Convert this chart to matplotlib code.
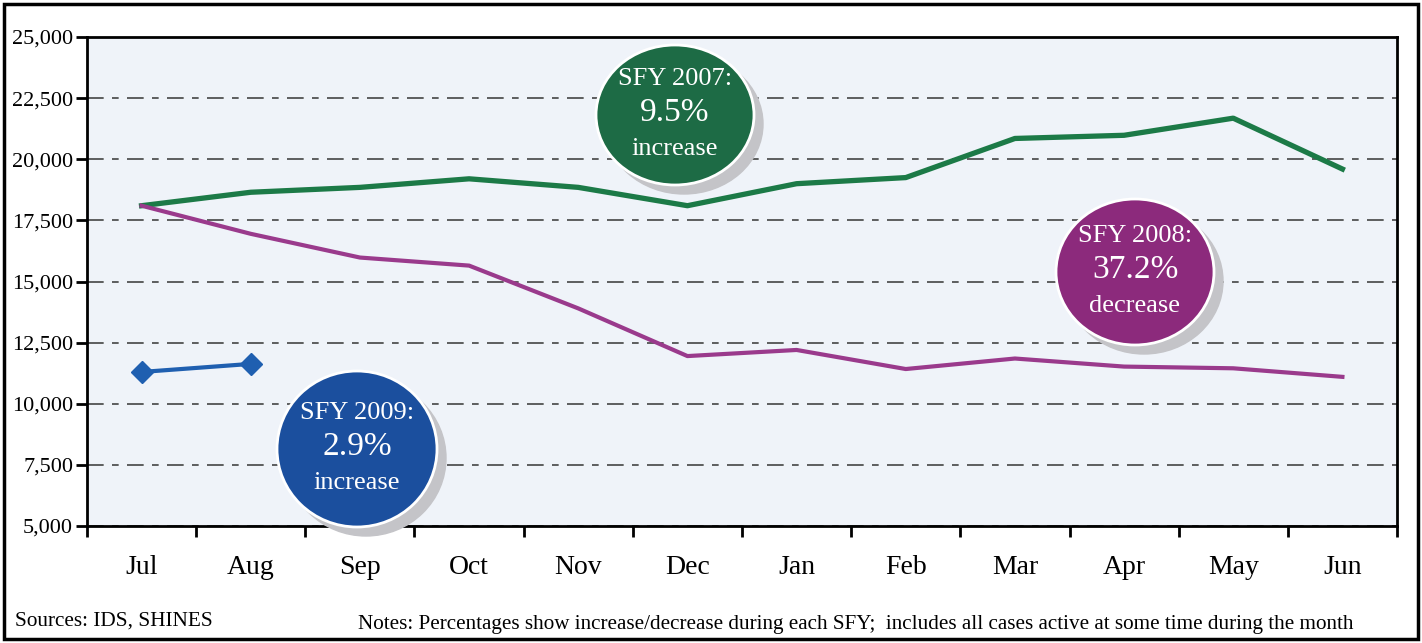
import matplotlib.pyplot as plt
from matplotlib.patches import Ellipse, Rectangle
from matplotlib.ticker import FuncFormatter, MultipleLocator

plt.rcParams['font.family'] = ['Liberation Serif', 'DejaVu Serif']

months = ["Jul", "Aug", "Sep", "Oct", "Nov", "Dec", "Jan", "Feb", "Mar", "Apr", "May", "Jun"]
sfy2007 = [18100, 18650, 18850, 19200, 18850, 18100, 19000, 19250, 20850, 20980, 21680, 19600]
sfy2008 = [18100, 16950, 15980, 15650, 13900, 11950, 12200, 11420, 11850, 11520, 11450, 11100]
sfy2009 = [11300, 11630]

W, H = 1422, 643
fig = plt.figure(figsize=(W / 100, H / 100), dpi=100)
ax = fig.add_axes([87 / W, 1 - 526 / H, 1310 / W, 489 / H])
ax.set_facecolor("#eff3f9")

x = range(len(months))
ax.plot(x, sfy2007, color="#1c7a47", lw=3.8, zorder=3)
ax.plot(x, sfy2008, color="#9a3a8c", lw=3, zorder=3)
ax.plot(range(len(sfy2009)), sfy2009, color="#1f5fb0", lw=3, marker="D",
        markersize=11, markerfacecolor="#1f5fb0", markeredgecolor="#1f5fb0", zorder=3)

ax.set_xlim(-0.5, len(months) - 0.5)
ax.set_ylim(5000, 25000)
ax.yaxis.set_major_locator(MultipleLocator(2500))
ax.yaxis.set_major_formatter(FuncFormatter(lambda v, p: f"{int(v):,}"))
ax.set_xticks([i + 0.5 for i in range(-1, len(months))])
ax.set_xticklabels([])
ax.set_xticks(list(x), minor=True)
ax.set_xticklabels(months, minor=True, fontsize=20)
ax.tick_params(axis="x", which="minor", length=0, pad=21)
ax.tick_params(axis="x", which="major", length=8, width=2, direction="out")
ax.tick_params(axis="y", length=8, width=2, labelsize=16, pad=2)
ax.grid(axis="y", color="#444444", lw=1.2, linestyle=(0, (10, 5, 4, 5)))
for s in ax.spines.values():
    s.set_linewidth(2)

# callout circles (axes fraction), with grey drop shadow
callouts = [
    (675, 115, 158, 140, "#1d6b45", "SFY 2007:", "9.5%", "increase"),
    (1135, 272, 158, 146, "#8c2a7c", "SFY 2008:", "37.2%", "decrease"),
    (357, 449, 160, 156, "#1b4f9e", "SFY 2009:", "2.9%", "increase"),
]
for cx, cy, w, h, col, l1, l2, l3 in callouts:
    ax_x = (cx - 87) / 1310
    ax_y = (526 - cy) / 489
    ax.add_patch(Ellipse((ax_x + 9 / 1310, ax_y - 9 / 489), w / 1310, h / 489,
                         transform=ax.transAxes, color="#c4c4c8", zorder=4, clip_on=False))
    ax.add_patch(Ellipse((ax_x, ax_y), w / 1310, h / 489, transform=ax.transAxes,
                         facecolor=col, edgecolor="white", lw=2, zorder=5, clip_on=False))
    ax.text(ax_x, ax_y + 36 / 489, l1, transform=ax.transAxes, ha="center", va="center",
            color="white", fontsize=19, zorder=6)
    ax.text(ax_x, ax_y + 2 / 489, l2, transform=ax.transAxes, ha="center", va="center",
            color="white", fontsize=24, zorder=6)
    ax.text(ax_x, ax_y - 34 / 489, l3, transform=ax.transAxes, ha="center", va="center",
            color="white", fontsize=19, zorder=6)

fig.text(15 / W, 1 - 621 / H, "Sources: IDS, SHINES", fontsize=15.3, va="center")
fig.text(358 / W, 1 - 624 / H,
         "Notes: Percentages show increase/decrease during each SFY;  includes all cases active at some time during the month",
         fontsize=15.2, va="center")

fig.patches.append(Rectangle((4 / W, 4 / H), 1 - 8 / W, 1 - 8 / H, transform=fig.transFigure,
                             fill=False, edgecolor="black", lw=2.5))

fig.savefig("out.png", dpi=100)
